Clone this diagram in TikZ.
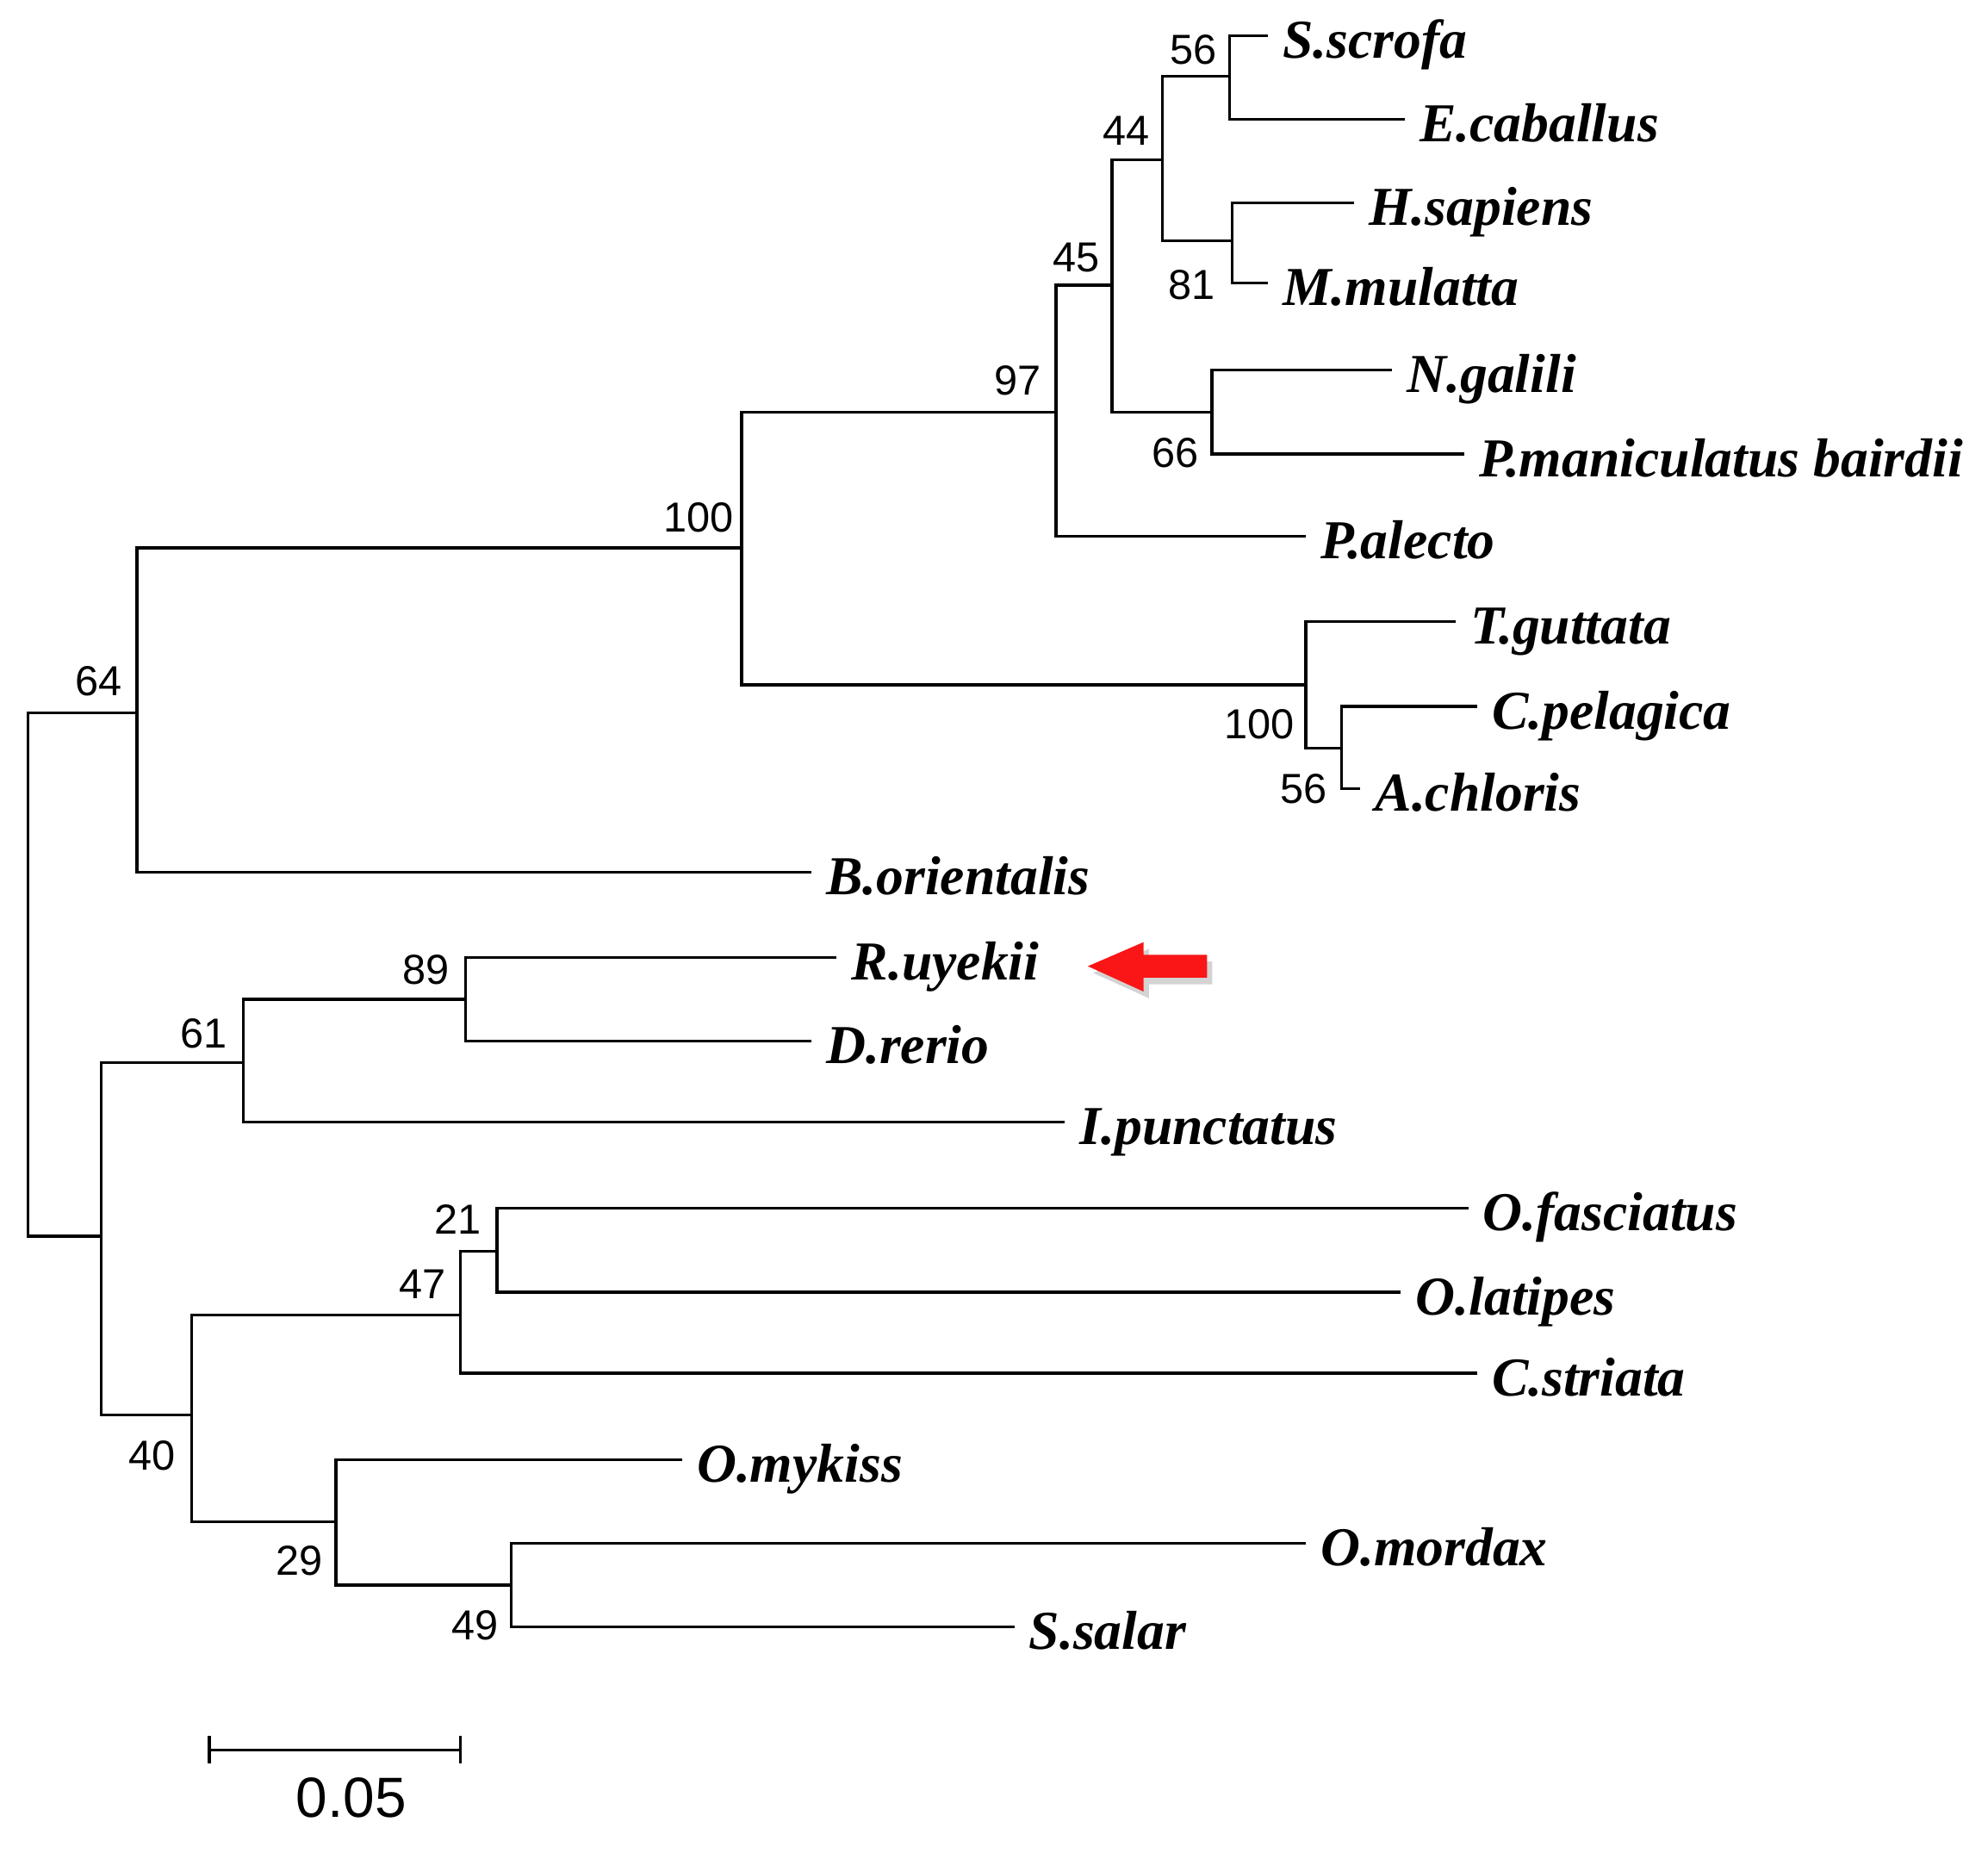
\documentclass[tikz,border=0pt]{standalone}
\usepackage{fontspec}
\setmainfont{Liberation Serif}
\setsansfont{Liberation Sans}
\usepackage{tikz}
\usetikzlibrary{shadows}
\definecolor{marker}{RGB}{250,22,22}

\begin{document}
\begin{tikzpicture}[x=0.01cm, y=-0.01cm, line width=0.65pt,
    taxon/.style={anchor=west, inner xsep=3pt, inner ysep=0pt, text height=1.01em, text depth=0pt,
                  font=\bfseries\itshape\fontsize{12.3}{15}\selectfont},
    boot/.style={inner sep=0pt, font=\sffamily\fontsize{9.4}{11}\selectfont}]
\useasboundingbox (0,0) rectangle (1568,1461);

% internal nodes
\coordinate(root) at (22,768);
\coordinate(n64) at (108,562);
\coordinate(n100a) at (585,432);
\coordinate(n97) at (833,325);
\coordinate(n45) at (877,225);
\coordinate(n44) at (917,126);
\coordinate(n56a) at (970,60);
\coordinate(n81) at (972,190);
\coordinate(n66) at (956,325);
\coordinate(n100b) at (1030,540);
\coordinate(n56b) at (1058,590);
\coordinate(nb) at (80,975);
\coordinate(n61) at (192,838);
\coordinate(n89) at (367,788);
\coordinate(n40) at (151,1116);
\coordinate(n47) at (363,1037);
\coordinate(n21) at (392,987);
\coordinate(n29) at (265,1200);
\coordinate(n49) at (403,1250);

% taxa
\node(ssc)[taxon] at (1000,28) {S.scrofa};
\node(eca)[taxon] at (1108,94) {E.caballus};
\node(hsa)[taxon] at (1068,160) {H.sapiens};
\node(mmu)[taxon] at (1000,223) {M.mulatta};
\node(nga)[taxon] at (1098,292) {N.galili};
\node(pma)[taxon] at (1155,358) {P.maniculatus bairdii};
\node(pal)[taxon] at (1030,423) {P.alecto};
\node(tgu)[taxon] at (1148,490) {T.guttata};
\node(cpe)[taxon] at (1165,557) {C.pelagica};
\node(ach)[taxon] at (1073,622) {A.chloris};
\node(bor)[taxon] at (640,688) {B.orientalis};
\node(ruy)[taxon] at (660,755) {R.uyekii};
\node(dre)[taxon] at (640,821) {D.rerio};
\node(ipu)[taxon] at (840,885) {I.punctatus};
\node(ofa)[taxon] at (1158,953) {O.fasciatus};
\node(ola)[taxon] at (1105,1019) {O.latipes};
\node(cst)[taxon] at (1165,1083) {C.striata};
\node(omy)[taxon] at (538,1151) {O.mykiss};
\node(omo)[taxon] at (1030,1217) {O.mordax};
\node(ssa)[taxon] at (800,1283) {S.salar};

% bootstrap values
\node(b56a)[boot] at (941,39) {56};
\node(b44)[boot] at (888,103) {44};
\node(b81)[boot] at (940,225) {81};
\node(b45)[boot] at (849,203) {45};
\node(b97)[boot] at (803,300) {97};
\node(b66)[boot] at (927,357) {66};
\node(b100a)[boot] at (551,408) {100};
\node(b64)[boot] at (78,537) {64};
\node(b100b)[boot] at (993,571) {100};
\node(b56b)[boot] at (1028,622) {56};
\node(b89)[boot] at (336,765) {89};
\node(b61)[boot] at (161,815) {61};
\node(b21)[boot] at (361,962) {21};
\node(b47)[boot] at (333,1013) {47};
\node(b40)[boot] at (120,1148) {40};
\node(b29)[boot] at (236,1231) {29};
\node(b49)[boot] at (375,1282) {49};

\foreach \p/\c in {root/n64, root/nb, n64/n100a, n100a/n97, n97/n45, n45/n44, n44/n56a, n44/n81,
    n45/n66, n100a/n100b, n100b/n56b, nb/n61, n61/n89, nb/n40, n40/n47, n47/n21, n40/n29, n29/n49}
    \draw (\p) |- (\c);
\foreach \p/\c in {n56a/ssc, n56a/eca, n81/hsa, n81/mmu, n66/nga, n66/pma, n97/pal, n64/bor,
    n100b/tgu, n56b/cpe, n56b/ach, n89/ruy, n89/dre, n61/ipu, n21/ofa, n21/ola, n47/cst,
    n29/omy, n49/omo, n49/ssa}
    \draw (\p) |- (\c.west);

% scale bar
\coordinate(barl) at (165,1380);
\coordinate(barr) at (363,1380);
\draw (barl) -- (barr);
\draw (barl) ++(0,-11) -- ++(0,22);
\draw (barr) ++(0,-11) -- ++(0,22);
\node(barlbl)[font=\sffamily\fontsize{12.7}{15}\selectfont] at (277,1418) {0.05};

% arrow at R.uyekii
\fill[marker, drop shadow={shadow xshift=1.2pt, shadow yshift=-1.5pt, opacity=0.35}]
    (952,753) -- (902,753) -- (902,743) -- (858,762) -- (902,782) -- (902,771) -- (952,771) -- cycle;
\end{tikzpicture}
\end{document}
